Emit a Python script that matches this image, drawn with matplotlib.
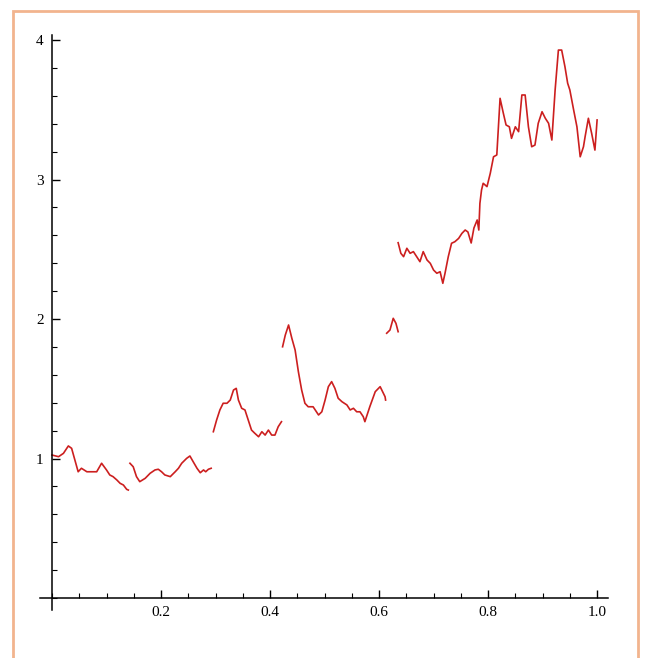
import numpy as np
import matplotlib.pyplot as plt
from matplotlib.patches import Rectangle
from matplotlib.ticker import MultipleLocator, FormatStrFormatter

# piecewise path (gaps between the pieces)
seg1_x = [0.0, 0.012, 0.021, 0.030, 0.036, 0.042, 0.048, 0.054, 0.064, 0.082, 0.091,
          0.100, 0.106, 0.112, 0.119, 0.125, 0.131, 0.137, 0.140]
seg1_y = [1.025, 1.013, 1.037, 1.090, 1.073, 0.989, 0.905, 0.930, 0.905, 0.905, 0.966,
          0.918, 0.882, 0.870, 0.846, 0.822, 0.810, 0.779, 0.774]

seg2_x = [0.143, 0.149, 0.155, 0.161, 0.171, 0.180, 0.189, 0.195, 0.201, 0.207, 0.217,
          0.226, 0.232, 0.238, 0.247, 0.253, 0.259, 0.266, 0.272, 0.278, 0.282, 0.287, 0.292]
seg2_y = [0.966, 0.941, 0.870, 0.834, 0.858, 0.894, 0.918, 0.923, 0.905, 0.882, 0.870,
          0.905, 0.930, 0.966, 1.001, 1.018, 0.977, 0.930, 0.898, 0.918, 0.905, 0.923, 0.930]

seg3_x = [0.296, 0.302, 0.308, 0.314, 0.321, 0.327, 0.333, 0.338, 0.342, 0.348, 0.354,
          0.360, 0.366, 0.372, 0.379, 0.385, 0.391, 0.397, 0.403, 0.409, 0.415, 0.421]
seg3_y = [1.192, 1.276, 1.348, 1.396, 1.396, 1.419, 1.491, 1.503, 1.419, 1.360, 1.348,
          1.276, 1.204, 1.181, 1.156, 1.192, 1.168, 1.204, 1.168, 1.168, 1.228, 1.264]

seg4_x = [0.423, 0.428, 0.434, 0.440, 0.446, 0.452, 0.458, 0.464, 0.470, 0.479, 0.489,
          0.495, 0.501, 0.507, 0.513, 0.519, 0.525, 0.532, 0.541, 0.547, 0.553, 0.559,
          0.565, 0.571, 0.574, 0.583, 0.593, 0.602, 0.611, 0.612]
seg4_y = [1.801, 1.885, 1.957, 1.862, 1.778, 1.622, 1.491, 1.396, 1.371, 1.371, 1.312,
          1.335, 1.419, 1.515, 1.551, 1.503, 1.432, 1.407, 1.384, 1.348, 1.360, 1.335,
          1.335, 1.300, 1.264, 1.371, 1.479, 1.515, 1.443, 1.419]

seg5_x = [0.614, 0.620, 0.626, 0.631, 0.635]
seg5_y = [1.898, 1.921, 2.005, 1.969, 1.909]

seg6_x = [0.635, 0.640, 0.645, 0.651, 0.657, 0.663, 0.669, 0.675, 0.681, 0.688, 0.694,
          0.700, 0.706, 0.712, 0.717, 0.721, 0.727, 0.733, 0.739, 0.746, 0.752, 0.758,
          0.763, 0.769, 0.774, 0.780, 0.783, 0.785, 0.788, 0.791, 0.798, 0.804, 0.810,
          0.816, 0.822, 0.828, 0.833, 0.839, 0.843, 0.850, 0.856, 0.862, 0.868, 0.874,
          0.880, 0.886, 0.892, 0.899, 0.905, 0.911, 0.917, 0.923, 0.929, 0.935, 0.941,
          0.946, 0.950, 0.957, 0.963, 0.969, 0.975, 0.978, 0.984, 0.990, 0.996, 1.0]
seg6_y = [2.547, 2.471, 2.447, 2.507, 2.471, 2.483, 2.447, 2.411, 2.483, 2.423, 2.399,
          2.351, 2.328, 2.339, 2.256, 2.328, 2.447, 2.543, 2.554, 2.578, 2.614, 2.638,
          2.624, 2.545, 2.652, 2.710, 2.638, 2.829, 2.925, 2.973, 2.949, 3.044, 3.163,
          3.176, 3.582, 3.475, 3.391, 3.378, 3.295, 3.378, 3.343, 3.606, 3.606, 3.378,
          3.235, 3.247, 3.403, 3.486, 3.439, 3.403, 3.283, 3.642, 3.928, 3.928, 3.809,
          3.690, 3.642, 3.498, 3.378, 3.163, 3.235, 3.307, 3.439, 3.331, 3.211, 3.427]

segments = [(seg1_x, seg1_y), (seg2_x, seg2_y), (seg3_x, seg3_y),
            (seg4_x, seg4_y), (seg5_x, seg5_y), (seg6_x, seg6_y)]

W, H = 646, 658
fig = plt.figure(figsize=(W / 100, H / 100), dpi=100)

# orange frame round the cell
fig.patches.append(Rectangle((13 / W, -0.05), (638 - 13) / W, 1.05 - 11 / H,
                             transform=fig.transFigure, fill=False,
                             edgecolor='#f2b48e', linewidth=2))

ax = fig.add_axes([40 / W, (H - 610) / H, 568 / W, 575 / H])
ax.set_xlim(-0.022, 1.02)
ax.set_ylim(-0.086, 4.036)

for sx, sy in segments:
    ax.plot(sx, sy, color='#cc1f1f', linewidth=1.2)

for side in ['top', 'right']:
    ax.spines[side].set_visible(False)
ax.spines['left'].set_position(('data', 0))
ax.spines['bottom'].set_position(('data', 0))
ax.spines['left'].set_linewidth(1.1)
ax.spines['bottom'].set_linewidth(1.1)

ax.xaxis.set_major_locator(MultipleLocator(0.2))
ax.xaxis.set_minor_locator(MultipleLocator(0.05))
ax.yaxis.set_major_locator(MultipleLocator(1))
ax.yaxis.set_minor_locator(MultipleLocator(0.2))
ax.xaxis.set_major_formatter(FormatStrFormatter('%.1f'))
ax.yaxis.set_major_formatter(FormatStrFormatter('%d'))

ax.set_xticks([0.2, 0.4, 0.6, 0.8, 1.0])
ax.set_yticks([1, 2, 3, 4])

ax.tick_params(which='major', direction='in', length=6, width=1,
               labelsize=11, pad=6)
ax.tick_params(which='minor', direction='in', length=3.5, width=0.8)
for lab in ax.get_xticklabels() + ax.get_yticklabels():
    lab.set_fontfamily('Liberation Serif')

ax.patch.set_visible(False)
fig.savefig('out.png', dpi=100)
